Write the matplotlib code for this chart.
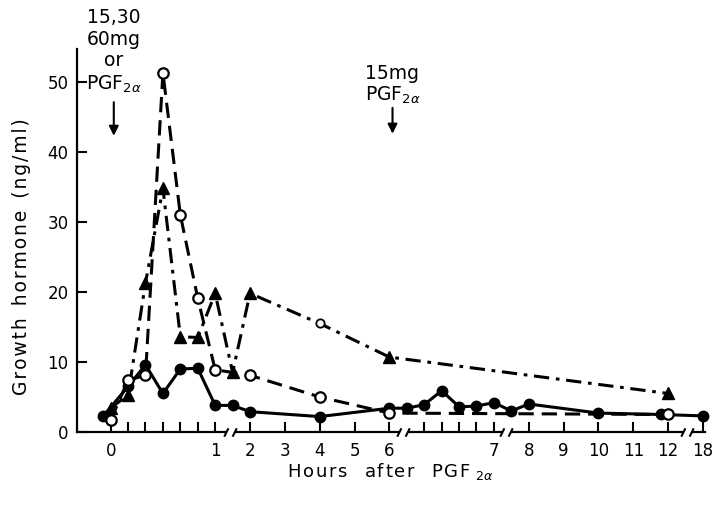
import numpy as np
import matplotlib
matplotlib.use("Agg")
import matplotlib.pyplot as plt
from matplotlib.path import Path

# ---------------- data (hours after PGF2a, GH ng/ml) ----------------
solid_t = [-0.07, 1/6, 2/6, 3/6, 4/6, 5/6, 1.0, 1.5, 2.0, 4.0, 6.0,
           6 + 1/6, 6 + 2/6, 6 + 3/6, 6 + 4/6, 6 + 5/6, 7.0, 7.5, 8.0, 10.0, 11.8, 18.0]
solid_v = [2.3, 6.5, 9.6, 5.5, 9.0, 9.1, 3.8, 3.8, 2.9, 2.2, 3.4,
           3.4, 3.9, 5.9, 3.6, 3.7, 4.2, 3.0, 4.0, 2.7, 2.5, 2.3]

open_t = [0.0, 1/6, 2/6, 3/6, 4/6, 5/6, 1.0, 2.0, 4.0, 6.0, 12.0]
open_v = [1.7, 7.4, 8.1, 51.3, 31.0, 19.1, 8.9, 8.1, 5.0, 2.7, 2.5]

tri_t = [0.0, 1/6, 2/6, 3/6, 4/6, 5/6, 1.0, 1.5, 2.0, 4.0, 6.0, 12.0]
tri_v = [3.4, 5.3, 21.3, 34.8, 13.6, 13.5, 19.8, 8.5, 19.8, 15.5, 10.7, 5.5]
tri_faint = 9   # index of the poorly printed marker (4 h)

major_ticks = [0, 1, 2, 3, 4, 5, 6, 7, 8, 9, 10, 11, 12, 18]
major_labels = ["0", "1", "2", "3", "4", "5", "6", "7", "8", "9", "10", "11", "12", "18"]
minor_ticks = [1/6, 2/6, 3/6, 4/6, 5/6, 6 + 2/6, 6 + 3/6, 6 + 4/6, 6 + 5/6]
break_pos = [1.42, 6.13, 7.35, 15.2]
y_ticks = [0, 10, 20, 30, 40, 50]

# ---------------- piecewise (broken) time axis ----------------
H = np.array([0, 1, 6, 7, 12, 18], float)
U = np.array([0, 3, 8, 11, 16, 17], float)

def fwd(h):
    h = np.asarray(h, float)
    u = np.interp(h, H, U)
    u = np.where(h < 0, 3 * h, u)
    u = np.where(h > 18, 17 + (h - 18) / 6, u)
    return u

def inv(u):
    u = np.asarray(u, float)
    h = np.interp(u, U, H)
    h = np.where(u < 0, u / 3, h)
    h = np.where(u > 17, 18 + (u - 17) * 6, h)
    return h

def spaced(s, sep="\u200a"):
    return sep.join(s)

plt.rcParams['font.family'] = ['DejaVu Sans']
fig = plt.figure(figsize=(7.23, 5.16), dpi=100)
ax = fig.add_axes([77 / 723, 1 - 432 / 516, (705 - 77) / 723, (432 - 49) / 516])
ax.set_xscale('function', functions=(fwd, inv))
ax.set_xlim(-0.322, 18.35)
ax.set_ylim(0, 54.7)

lw = 2.2
ax.plot(solid_t, solid_v, '-', color='k', lw=lw, marker='o', ms=7.5,
        mfc='k', mec='k', zorder=4, clip_on=False)
ax.plot(open_t, open_v, color='k', lw=lw, dashes=(5, 2.6), marker='o', ms=7.5,
        mfc='white', mec='k', mew=1.6, zorder=5, clip_on=False)
keep = [i for i in range(len(tri_t)) if i != tri_faint]
ax.plot(tri_t, tri_v, color='k', lw=lw, dashes=(5, 2.2, 1.2, 2.2), marker='^', ms=8.5,
        mfc='k', mec='k', markevery=keep, zorder=3, clip_on=False)
ax.plot([tri_t[tri_faint]], [tri_v[tri_faint]], marker='o', ms=6, mfc='white',
        mec='k', mew=1.3, ls='none', zorder=6)

# spines / ticks
for s in ['top', 'right']:
    ax.spines[s].set_visible(False)
for s in ['left', 'bottom']:
    ax.spines[s].set_linewidth(1.6)

ax.set_xticks(major_ticks)
ax.set_xticklabels(major_labels)
ax.set_xticks(minor_ticks, minor=True)
ax.set_yticks(y_ticks)
ax.tick_params(axis='both', which='both', direction='in', length=7.5, width=1.5,
               labelsize=12)
ax.tick_params(axis='x', pad=7)
ax.tick_params(axis='y', pad=6)

# break marks on x axis
s_ms = 9.0
w_ms = s_ms * 2.6 / 3.0
slash = Path([(-1.5, -1), (-0.5, 1), (0.5, -1), (1.5, 1)],
             [Path.MOVETO, Path.LINETO, Path.MOVETO, Path.LINETO])
gap = Path([(-1.3, -0.6), (0.7, -0.6), (1.3, 0.6), (-0.7, 0.6), (-1.3, -0.6)],
           [Path.MOVETO, Path.LINETO, Path.LINETO, Path.LINETO, Path.CLOSEPOLY])
for b in break_pos:
    ax.plot([b], [0], marker=gap, ms=w_ms, mfc='white', mec='white', mew=0,
            ls='none', clip_on=False, zorder=7)
    ax.plot([b], [0], marker=slash, ms=s_ms, mfc='none', mec='k', mew=1.5,
            ls='none', clip_on=False, zorder=8)

ylab = "  ".join(spaced(w) for w in ["Growth", "hormone", "(ng/ml)"])
ax.set_ylabel(ylab, fontsize=13.5)
ax.yaxis.set_label_coords(-0.073, 0.457)
xlab = "   ".join(spaced(w) for w in ["Hours", "after", "PGF"]) + " $_{2\\alpha}$"
ax.set_xlabel(xlab, fontsize=13, labelpad=1)

# annotations
ax.text(0.03, 60.5, "15,30\n60mg\nor\nPGF$_{2\\alpha}$", ha='center', va='top',
        fontsize=13.5, linespacing=1.17)
ax.annotate("", xy=(0.03, 42.3), xytext=(0.03, 47.1),
            arrowprops=dict(arrowstyle='-|>', lw=1.5, color='k', mutation_scale=14,
                            shrinkA=0, shrinkB=0))
ax.text(5.30, 52.6, "15mg\nPGF$_{2\\alpha}$", ha='left', va='top',
        fontsize=13.5, linespacing=1.12)
ax.annotate("", xy=(6.03, 42.6), xytext=(6.03, 46.3),
            arrowprops=dict(arrowstyle='-|>', lw=1.5, color='k', mutation_scale=14,
                            shrinkA=0, shrinkB=0))

fig.savefig("out.png", dpi=100)
